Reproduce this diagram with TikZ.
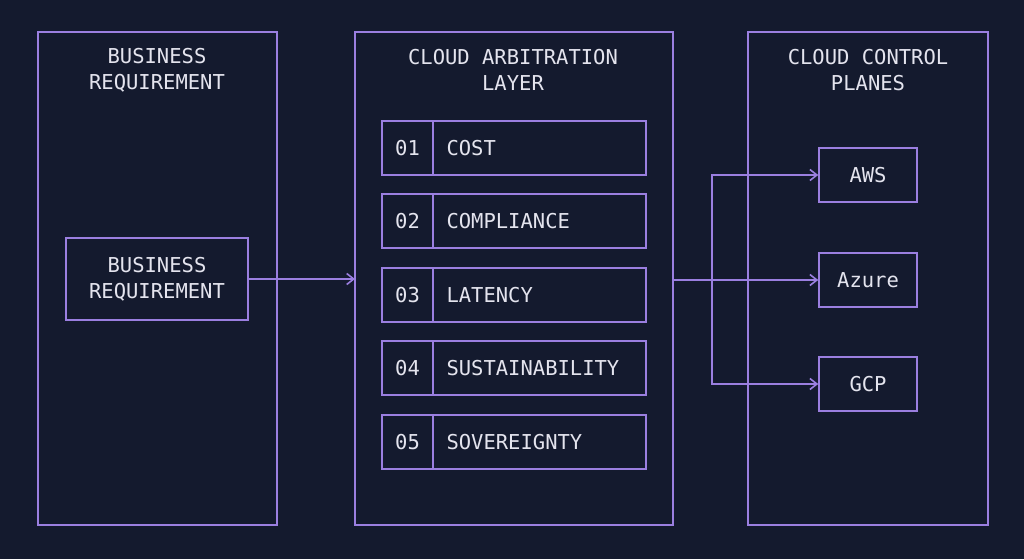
\documentclass[tikz,border=0pt]{standalone}
\usepackage{fontspec}
\setmonofont{DejaVu Sans Mono}
\usetikzlibrary{arrows.meta}
\definecolor{bg}{HTML}{141A2E}
\definecolor{ln}{HTML}{9B7FE0}
\definecolor{tx}{HTML}{E4E4EE}
\begin{document}
\begin{tikzpicture}[x=1pt,y=-1pt,
  box/.style={draw=ln,line width=1.6pt},
  lbl/.style={text=tx,font=\ttfamily\fontsize{20.5}{26}\selectfont,align=center},
  arr/.style={draw=ln,line width=1.6pt,-{Straight Barb[length=7pt,width=11pt]}}]
\fill[bg] (0,0) rectangle (1024,559);
\useasboundingbox (0,0) rectangle (1024,559);
\draw[box] (38,32) rectangle (277,525);
\draw[box] (355,32) rectangle (673,525);
\draw[box] (748,32) rectangle (988,525);
\node[lbl] (t1) at (157,70) {BUSINESS\\REQUIREMENT};
\node[lbl] (t2) at (513,70) {CLOUD ARBITRATION\\LAYER};
\node[lbl] (t3) at (868,70) {CLOUD CONTROL\\PLANES};
\node[box,lbl,minimum width=182pt,minimum height=82pt,inner sep=0] (br) at (157,279) {BUSINESS\\REQUIREMENT};
\coordinate (midl) at (355,279);
\coordinate (midr) at (673,280);
\foreach \n/\t/\y in {01/COST/148,02/COMPLIANCE/221,03/LATENCY/295,04/SUSTAINABILITY/368,05/SOVEREIGNTY/442}{
  \draw[box] (382,\y-27) rectangle (646,\y+27);
  \draw[box] (433,\y-27) -- (433,\y+27);
  \node[lbl] (n\n) at (407.5,\y) {\n};
  \node[lbl,anchor=west] (r\n) at (443,\y) {\t};
}
\node[box,lbl,minimum width=98pt,minimum height=54pt,inner sep=0] (aws) at (868,175) {AWS};
\node[box,lbl,minimum width=98pt,minimum height=54pt,inner sep=0] (az) at (868,280) {Azure};
\node[box,lbl,minimum width=98pt,minimum height=54pt,inner sep=0] (gcp) at (868,384) {GCP};
\draw[arr] (br.east) -- (midl);
\draw[arr] (midr) -- (az.west);
\draw[arr] (712,280) |- (aws.west);
\draw[arr] (712,280) |- (gcp.west);
\end{tikzpicture}
\end{document}
